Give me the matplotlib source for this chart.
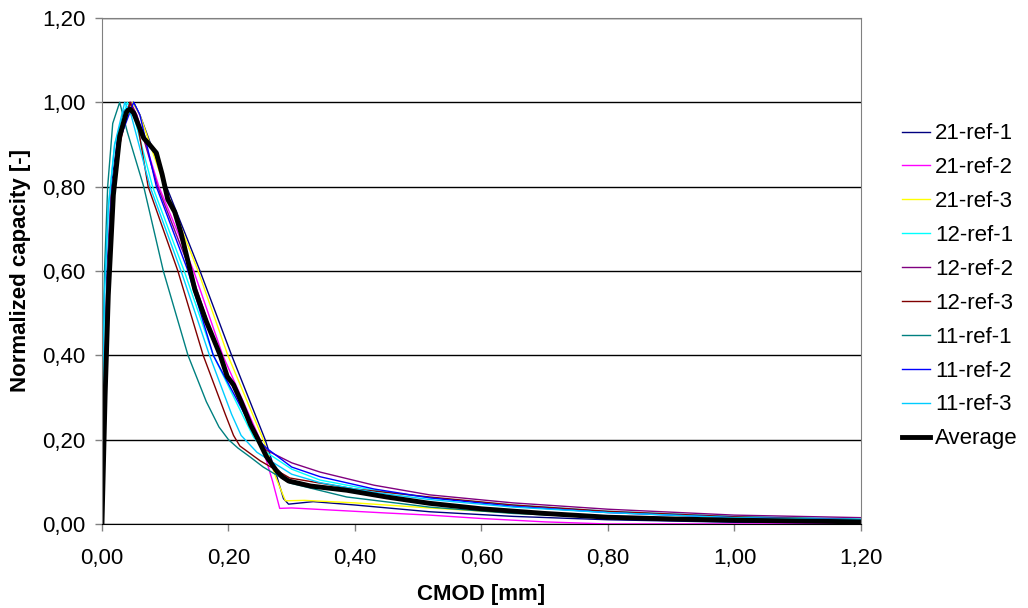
import matplotlib.pyplot as plt
from matplotlib.ticker import FuncFormatter, MultipleLocator

plt.rcParams['font.family'] = ['Liberation Sans', 'DejaVu Sans']

# 21-ref-1
x_21_1 = [0, 0.003, 0.008, 0.015, 0.025, 0.035, 0.05, 0.06, 0.102, 0.155, 0.205, 0.258, 0.275, 0.287, 0.295, 0.334, 0.4, 0.518, 0.65, 0.8, 1.0, 1.2]
y_21_1 = [0, 0.3, 0.6, 0.8, 0.92, 0.98, 1.0, 0.97, 0.8, 0.6, 0.4, 0.2, 0.12, 0.06, 0.047, 0.053, 0.045, 0.029, 0.018, 0.01, 0.004, 0.0]
# 21-ref-2
x_21_2 = [0, 0.003, 0.008, 0.015, 0.025, 0.045, 0.055, 0.09, 0.145, 0.191, 0.25, 0.27, 0.281, 0.3, 0.35, 0.45, 0.518, 0.6, 0.7, 0.8, 1.2]
y_21_2 = [0, 0.25, 0.55, 0.78, 0.9, 1.0, 0.97, 0.8, 0.6, 0.4, 0.2, 0.1, 0.037, 0.038, 0.034, 0.026, 0.021, 0.013, 0.005, 0.0, 0.0]
# 21-ref-3
x_21_3 = [0, 0.003, 0.008, 0.015, 0.025, 0.048, 0.06, 0.099, 0.152, 0.199, 0.255, 0.275, 0.29, 0.32, 0.4, 0.518, 0.65, 0.8, 1.0, 1.2]
y_21_3 = [0, 0.25, 0.55, 0.78, 0.9, 1.0, 0.97, 0.8, 0.6, 0.4, 0.2, 0.11, 0.055, 0.056, 0.05, 0.038, 0.026, 0.015, 0.007, 0.003]
# 12-ref-1
x_12_1 = [0, 0.001, 0.004, 0.01, 0.02, 0.04, 0.05, 0.08, 0.13, 0.176, 0.225, 0.24, 0.26, 0.3, 0.345, 0.43, 0.518, 0.65, 0.8, 1.0, 1.2]
y_12_1 = [0, 0.33, 0.55, 0.75, 0.9, 1.0, 0.97, 0.8, 0.6, 0.4, 0.25, 0.205, 0.17, 0.13, 0.104, 0.08, 0.062, 0.045, 0.03, 0.018, 0.012]
# 12-ref-2
x_12_2 = [0, 0.003, 0.008, 0.015, 0.025, 0.045, 0.055, 0.088, 0.14, 0.185, 0.245, 0.26, 0.3, 0.345, 0.43, 0.518, 0.65, 0.8, 1.0, 1.2]
y_12_2 = [0, 0.25, 0.55, 0.78, 0.9, 1.0, 0.97, 0.8, 0.6, 0.4, 0.2, 0.175, 0.145, 0.123, 0.092, 0.069, 0.05, 0.035, 0.021, 0.015]
# 12-ref-3
x_12_3 = [0, 0.003, 0.008, 0.015, 0.025, 0.044, 0.055, 0.073, 0.12, 0.16, 0.195, 0.208, 0.218, 0.25, 0.297, 0.4, 0.518, 0.65, 0.8, 1.0, 1.2]
y_12_3 = [0, 0.22, 0.5, 0.75, 0.88, 1.0, 0.96, 0.8, 0.6, 0.4, 0.26, 0.21, 0.185, 0.15, 0.109, 0.083, 0.064, 0.045, 0.03, 0.017, 0.01]
# 11-ref-1
x_11_1 = [0, 0.001, 0.004, 0.009, 0.017, 0.028, 0.04, 0.066, 0.097, 0.136, 0.165, 0.185, 0.2, 0.215, 0.235, 0.255, 0.297, 0.387, 0.518, 0.65, 0.8, 1.0, 1.2]
y_11_1 = [0, 0.35, 0.6, 0.8, 0.95, 1.0, 0.93, 0.8, 0.6, 0.4, 0.29, 0.23, 0.2, 0.18, 0.158, 0.135, 0.097, 0.064, 0.04, 0.025, 0.015, 0.008, 0.005]
# 11-ref-2
x_11_2 = [0, 0.003, 0.008, 0.015, 0.025, 0.05, 0.06, 0.086, 0.136, 0.176, 0.247, 0.26, 0.3, 0.345, 0.43, 0.518, 0.65, 0.8, 1.0, 1.2]
y_11_2 = [0, 0.25, 0.55, 0.78, 0.9, 1.0, 0.97, 0.8, 0.6, 0.4, 0.2, 0.18, 0.135, 0.112, 0.083, 0.062, 0.042, 0.027, 0.015, 0.01]
# 11-ref-3
x_11_3 = [0, 0.001, 0.004, 0.01, 0.02, 0.036, 0.046, 0.076, 0.125, 0.17, 0.205, 0.22, 0.245, 0.3, 0.345, 0.43, 0.518, 0.65, 0.8, 1.0, 1.2]
y_11_3 = [0, 0.33, 0.55, 0.75, 0.9, 1.0, 0.97, 0.8, 0.6, 0.4, 0.26, 0.21, 0.17, 0.118, 0.098, 0.075, 0.058, 0.04, 0.027, 0.015, 0.01]
# Average
x_avg = [0, 0.005, 0.01, 0.018, 0.028, 0.039, 0.044, 0.05, 0.058, 0.066, 0.075, 0.086, 0.095, 0.104, 0.115, 0.125, 0.147,
         0.165, 0.187, 0.198, 0.208, 0.22, 0.235, 0.247, 0.26, 0.275, 0.285, 0.295, 0.33, 0.387, 0.45, 0.518, 0.6, 0.7, 0.8,
         0.9, 1.0, 1.1, 1.2]
y_avg = [0, 0.306, 0.543, 0.78, 0.92, 0.978, 0.984, 0.975, 0.945, 0.915, 0.90, 0.88, 0.83, 0.77, 0.74, 0.69, 0.555,
         0.48, 0.40, 0.35, 0.33, 0.29, 0.235, 0.20, 0.16, 0.128, 0.112, 0.102, 0.09, 0.08, 0.064, 0.049, 0.036, 0.025, 0.016,
         0.012, 0.009, 0.007, 0.005]

series = [
    ('21-ref-1', x_21_1, y_21_1, '#000080'),
    ('21-ref-2', x_21_2, y_21_2, '#FF00FF'),
    ('21-ref-3', x_21_3, y_21_3, '#FFFF00'),
    ('12-ref-1', x_12_1, y_12_1, '#00FFFF'),
    ('12-ref-2', x_12_2, y_12_2, '#800080'),
    ('12-ref-3', x_12_3, y_12_3, '#800000'),
    ('11-ref-1', x_11_1, y_11_1, '#008080'),
    ('11-ref-2', x_11_2, y_11_2, '#0000FF'),
    ('11-ref-3', x_11_3, y_11_3, '#00CCFF'),
]

fig = plt.figure(figsize=(10.28, 6.08), dpi=100)
ax = fig.add_axes([0.0992, 0.1382, 0.7383, 0.8322])

for name, xs, ys, c in series:
    ax.plot(xs, ys, color=c, lw=1.0, label=name)
ax.plot(x_avg, y_avg, color='black', lw=3.5, label='Average')

ax.set_xlim(0, 1.2)
ax.set_ylim(0, 1.2)
ax.xaxis.set_major_locator(MultipleLocator(0.2))
ax.yaxis.set_major_locator(MultipleLocator(0.2))
fmt = FuncFormatter(lambda v, p: f"{v:.2f}".replace('.', ','))
ax.xaxis.set_major_formatter(fmt)
ax.yaxis.set_major_formatter(fmt)
ax.yaxis.grid(True, color='black', lw=1.0)
ax.set_axisbelow(True)

for s in ['left', 'top', 'right']:
    ax.spines[s].set_color('#808080')
ax.spines['bottom'].set_color('black')
ax.tick_params(axis='both', direction='out', length=5, width=1, color='#808080', labelsize=16)
ax.tick_params(axis='y', pad=7)
ax.tick_params(axis='x', pad=12)

ax.set_xlabel('CMOD [mm]', fontsize=16, fontweight='bold', labelpad=11)
ax.set_ylabel('Normalized capacity [-]', fontsize=16, fontweight='bold', labelpad=8)

ax.legend(loc='center left', bbox_to_anchor=(0.858, 0.529), bbox_transform=fig.transFigure,
          frameon=False, fontsize=16, labelspacing=0.58, handlelength=1.25, handletextpad=0.25)

fig.savefig('out.png', dpi=100)
